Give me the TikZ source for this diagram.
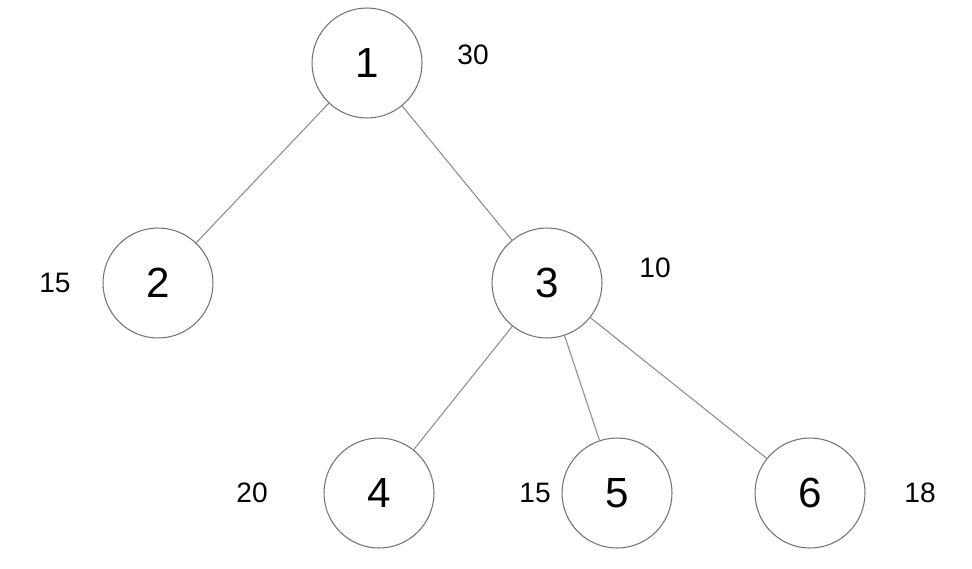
\documentclass[tikz,border=0pt]{standalone}
\usepackage{fontspec}
\setmainfont{Liberation Sans}
\begin{document}
\begin{tikzpicture}[x=0.02cm,y=-0.02cm]
\tikzstyle{vert}=[draw=black!55,line width=0.6pt,circle,minimum size=2.2cm,inner sep=0pt,font=\fontsize{24}{28}\selectfont]
\tikzstyle{wt}=[inner sep=0pt,font=\fontsize{16}{19}\selectfont]
\tikzstyle{edge}=[draw=black!45,line width=0.6pt]
\useasboundingbox (0,0) rectangle (972,568);
\node [vert] (n1) at (367,63) {1};
\node [vert] (n2) at (158,283) {2};
\node [vert] (n3) at (547,283) {3};
\node [vert] (n4) at (379,493) {4};
\node [vert] (n5) at (617,493) {5};
\node [vert] (n6) at (810,493) {6};
\node [wt] (w1) at (473,55) {30};
\node [wt] (w2) at (55,283) {15};
\node [wt] (w3) at (655,268) {10};
\node [wt] (w4) at (252,493) {20};
\node [wt] (w5) at (535,493) {15};
\node [wt] (w6) at (920,493) {18};
\draw [edge] (n1) -- (n2);
\draw [edge] (n1) -- (n3);
\draw [edge] (n3) -- (n4);
\draw [edge] (n3) -- (n5);
\draw [edge] (n3) -- (n6);
\end{tikzpicture}
\end{document}
